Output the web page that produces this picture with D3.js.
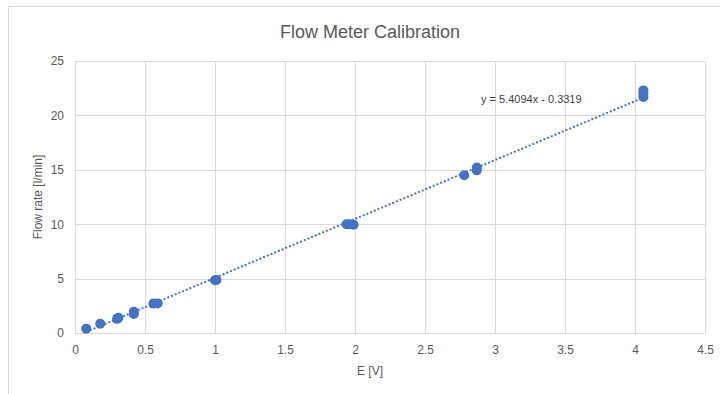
<!DOCTYPE html>
<html>
<head>
<meta charset="utf-8">
<script src="https://cdn.jsdelivr.net/npm/d3@7"></script>
<style>
  body { margin: 0; background: #fff; }
  text { font-family: "Liberation Sans", Arial, sans-serif; fill: #595959; }
</style>
</head>
<body>
<svg class="calib" width="720" height="394"></svg>
<script>
var voltage = [0.08, 0.18, 0.30, 0.31, 0.42, 0.42, 0.56, 0.59, 1.00, 1.01, 1.94, 1.96, 1.99, 2.78, 2.87, 2.87, 4.06, 4.06, 4.06];
var flow    = [0.40, 0.85, 1.30, 1.40, 1.75, 1.95, 2.70, 2.72, 4.85, 4.87, 10.0, 10.0, 9.95, 14.5, 14.95, 15.2, 21.7, 22.0, 22.3];
var xTicks = [0, 0.5, 1, 1.5, 2, 2.5, 3, 3.5, 4, 4.5];
var yTicks = [0, 5, 10, 15, 20, 25];
var slope = 5.4094, intercept = -0.3319;

var svg = d3.select("svg.calib"),
    margin = {top: 61, right: 15, bottom: 61, left: 75},
    width = +svg.attr("width") - margin.left - margin.right,
    height = +svg.attr("height") - margin.top - margin.bottom;

// chart frame
svg.append("path")
    .attr("d", "M8.5,400V6.5H730")
    .attr("fill", "none")
    .attr("stroke", "#d9d9d9");

var g = svg.append("g").attr("transform", "translate(" + margin.left + "," + margin.top + ")");

var x = d3.scaleLinear().domain([0, 4.5]).range([0, width]);
var y = d3.scaleLinear().domain([0, 25]).range([height, 0]);

g.append("g")
    .selectAll("line.v")
    .data(xTicks)
    .enter().append("line")
      .attr("x1", function(d) { return Math.round(x(d)) + 0.5; })
      .attr("x2", function(d) { return Math.round(x(d)) + 0.5; })
      .attr("y1", 0).attr("y2", height)
      .attr("stroke", "#d9d9d9");

g.append("g")
    .selectAll("line.h")
    .data(yTicks)
    .enter().append("line")
      .attr("y1", function(d) { return Math.round(y(d)) + 0.5; })
      .attr("y2", function(d) { return Math.round(y(d)) + 0.5; })
      .attr("x1", 0).attr("x2", width)
      .attr("stroke", "#d9d9d9");

var xAxis = g.append("g")
    .attr("transform", "translate(0," + height + ")")
    .call(d3.axisBottom(x).tickValues(xTicks).tickSize(0).tickPadding(12).tickFormat(d3.format("")));
var yAxis = g.append("g")
    .call(d3.axisLeft(y).tickValues(yTicks).tickSize(0).tickPadding(11));
[xAxis, yAxis].forEach(function (a) {
  a.select(".domain").remove();
  a.selectAll("text").attr("font-size", 12).attr("fill", "#595959")
    .style("font-family", "'Liberation Sans', Arial, sans-serif");
});

// trendline over the data range
var xr = d3.extent(voltage);
g.append("line")
    .attr("x1", x(xr[0])).attr("y1", y(slope * xr[0] + intercept))
    .attr("x2", x(xr[1])).attr("y2", y(slope * xr[1] + intercept))
    .attr("stroke", "#4472c4")
    .attr("stroke-width", 2)
    .attr("stroke-dasharray", "2,2");

g.selectAll("circle")
    .data(voltage)
    .enter().append("circle")
      .attr("cx", function(d) { return x(d); })
      .attr("cy", function(d, i) { return y(flow[i]); })
      .attr("r", 5)
      .attr("fill", "#4472c4");

g.append("text")
    .attr("x", x(2.9))
    .attr("y", y(21.1))
    .attr("font-size", 11)
    .style("fill", "#404040")
    .text("y = " + slope.toFixed(4) + "x - " + Math.abs(intercept).toFixed(4));

svg.append("text")
    .attr("text-anchor", "middle")
    .attr("x", 370)
    .attr("y", 38)
    .attr("font-size", 18)
    .text("Flow Meter Calibration");

svg.append("text")
    .attr("text-anchor", "middle")
    .attr("x", 370)
    .attr("y", 375)
    .attr("font-size", 12)
    .text("E [V]");

svg.append("text")
    .attr("text-anchor", "middle")
    .attr("transform", "translate(42," + (margin.top + height / 2) + ") rotate(-90)")
    .attr("font-size", 12)
    .text("Flow rate [l/min]");
</script>
</body>
</html>
